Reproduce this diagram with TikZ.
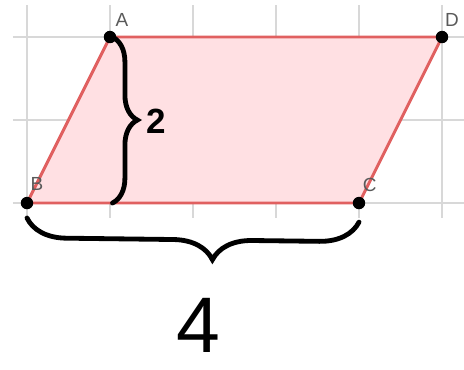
\documentclass[tikz,border=0pt]{standalone}
\usepackage{fontspec}
\setmainfont{Liberation Sans}
\definecolor{gridgray}{RGB}{216,216,216}
\definecolor{edgered}{RGB}{224,96,96}
\definecolor{fillpink}{RGB}{255,224,227}
\definecolor{labelgray}{RGB}{90,90,90}
\usetikzlibrary{positioning, calc, decorations.pathreplacing}

\begin{document}
\begin{tikzpicture}[
        x=2cm, y=2cm,
        gridline/.style={draw=gridgray, line width=1pt},
        edge/.style={draw=edgered, line width=2pt},
        vertex/.style={circle, fill=black, inner sep=0pt, minimum size=3mm},
        ptlabel/.style={text=labelgray, font=\fontsize{13}{15}\selectfont, inner sep=0pt},
        bracket/.style={draw=black, line width=3.3pt, line cap=round, decorate},
        dimlabel/.style={font=\fontsize{24}{28}\selectfont\bfseries, inner sep=0pt}
    ]
        \useasboundingbox (-0.325,-2.0) rectangle (5.265,2.446);

        % grid
        \foreach \gx in {0,...,5}
            \draw[gridline] (\gx,-0.18) -- (\gx,2.385);
        \foreach \gy in {0,1,2}
            \draw[gridline] (-0.17,\gy) -- (5.265,\gy);

        % corners
        \coordinate (A) at (1,2);
        \coordinate (D) at (5,2);
        \coordinate (B) at (0,0);
        \coordinate (C) at (4,0);

        % parallelogram
        \fill[fillpink] (A) -- (D) -- (C) -- (B) -- cycle;
        \draw[edge] (A) -- (D) -- (C) -- (B) -- cycle;

        % points and names
        \node[vertex] (PA) at (A) {};
        \node[vertex] (PD) at (D) {};
        \node[vertex] (PB) at (B) {};
        \node[vertex] (PC) at (C) {};
        \node[ptlabel] (LA) at (1.145,2.2) {A};
        \node[ptlabel] (LD) at (5.12,2.2) {D};
        \node[ptlabel] (LB) at (0.12,0.23) {B};
        \node[ptlabel] (LC) at (4.13,0.22) {C};

        % height brace
        \coordinate (HT) at (1.03,2);
        \coordinate (HB) at (1.03,0);
        \draw[bracket, decoration={brace, amplitude=0.6cm}] (HT) -- (HB);
        \node[dimlabel] (H) at (1.56,0.98) {2};

        % base brace
        \coordinate (WR) at (4,-0.23);
        \coordinate (WL) at (0,-0.18);
        \draw[bracket, decoration={brace, amplitude=0.95cm, aspect=0.44}] (WR) -- (WL);
        \node[font=\fontsize{54}{58}\selectfont, inner sep=0pt] (W) at (2.06,-1.47) {4};
\end{tikzpicture}
\end{document}
